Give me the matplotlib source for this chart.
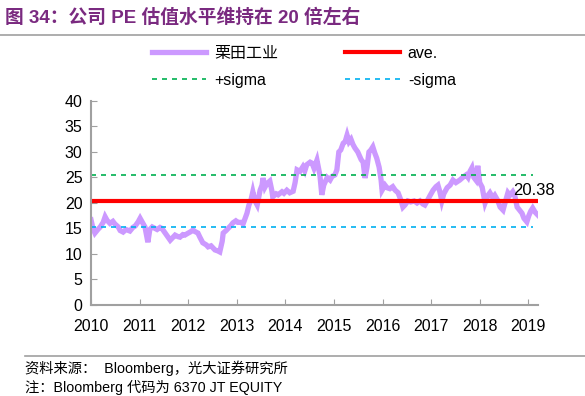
import matplotlib.pyplot as plt
from matplotlib.lines import Line2D

plt.rcParams['font.family'] = ['Liberation Sans', 'Noto Sans CJK SC']

# PE series, x in decimal years
years = [2010.00, 2010.04, 2010.08, 2010.14, 2010.19, 2010.25, 2010.29, 2010.33, 2010.39, 2010.45,
         2010.49, 2010.56, 2010.60, 2010.66, 2010.72, 2010.80, 2010.86, 2010.91, 2010.97, 2011.01,
         2011.07, 2011.11, 2011.17, 2011.21, 2011.26, 2011.32, 2011.36, 2011.42, 2011.46, 2011.52,
         2011.56, 2011.63, 2011.69, 2011.73, 2011.79, 2011.83, 2011.89, 2011.93, 2012.00, 2012.04,
         2012.10, 2012.14, 2012.20, 2012.24, 2012.30, 2012.37, 2012.41, 2012.47, 2012.51, 2012.55,
         2012.61, 2012.65, 2012.70, 2012.72, 2012.78, 2012.82, 2012.88, 2012.92, 2012.98, 2013.02,
         2013.09, 2013.13, 2013.19, 2013.21, 2013.25, 2013.29, 2013.33, 2013.37, 2013.42, 2013.46,
         2013.48, 2013.52, 2013.54, 2013.58, 2013.62, 2013.68, 2013.72, 2013.74, 2013.81, 2013.85,
         2013.93, 2013.97, 2014.03, 2014.09, 2014.16, 2014.20, 2014.24, 2014.30, 2014.36, 2014.40,
         2014.44, 2014.51, 2014.55, 2014.59, 2014.65, 2014.71, 2014.75, 2014.79, 2014.86, 2014.92,
         2014.96, 2015.02, 2015.06, 2015.10, 2015.14, 2015.19, 2015.23, 2015.27, 2015.31, 2015.35,
         2015.39, 2015.43, 2015.49, 2015.56, 2015.60, 2015.64, 2015.68, 2015.72, 2015.76, 2015.80,
         2015.84, 2015.88, 2015.93, 2015.97, 2015.99, 2016.05, 2016.09, 2016.15, 2016.21, 2016.26,
         2016.32, 2016.38, 2016.42, 2016.46, 2016.52, 2016.58, 2016.65, 2016.71, 2016.77, 2016.83,
         2016.87, 2016.93, 2016.98, 2017.04, 2017.10, 2017.14, 2017.18, 2017.22, 2017.26, 2017.33,
         2017.39, 2017.45, 2017.51, 2017.59, 2017.65, 2017.72, 2017.76, 2017.80, 2017.84, 2017.88,
         2017.92, 2017.96, 2018.00, 2018.05, 2018.09, 2018.11, 2018.17, 2018.21, 2018.27, 2018.31,
         2018.37, 2018.42, 2018.48, 2018.52, 2018.58, 2018.62, 2018.68, 2018.72, 2018.77, 2018.83,
         2018.87, 2018.91, 2018.97, 2019.01, 2019.05, 2019.09, 2019.14, 2019.20]
pe = [16.7, 15.0, 14.1, 14.8, 15.3, 16.2, 17.3, 16.6, 16.0, 16.4,
      15.9, 15.3, 14.6, 14.3, 14.8, 14.5, 15.2, 15.5, 16.3, 17.0,
      16.0, 15.3, 12.3, 14.8, 15.3, 15.0, 14.8, 15.2, 15.0, 14.2,
      13.7, 12.7, 13.3, 13.7, 13.4, 13.3, 13.8, 13.7, 14.1, 14.3,
      14.7, 14.4, 14.1, 13.3, 12.2, 11.8, 11.4, 11.6, 11.2, 10.8,
      10.6, 10.4, 12.5, 14.1, 14.6, 15.0, 15.6, 16.1, 16.5, 16.2,
      16.2, 15.9, 17.5, 18.0, 19.6, 20.5, 22.2, 20.5, 19.6, 21.5,
      22.5, 23.5, 24.9, 23.1, 23.8, 24.3, 22.5, 21.2, 21.8, 21.6,
      22.2, 21.9, 22.5, 22.0, 22.3, 24.0, 26.5, 26.2, 27.1, 26.3,
      27.5, 28.0, 27.8, 26.8, 28.4, 25.5, 21.6, 23.5, 25.0, 24.5,
      25.2, 25.5, 26.5, 30.0, 30.4, 31.7, 32.0, 33.3, 32.0, 32.5,
      31.5, 30.8, 30.0, 28.5, 28.0, 24.9, 27.0, 30.0, 30.4, 31.0,
      29.8, 28.8, 27.0, 24.5, 22.5, 23.5, 23.0, 22.8, 23.2, 22.5,
      22.0, 20.5, 19.2, 19.6, 20.4, 20.2, 20.4, 20.0, 20.4, 19.8,
      19.6, 20.6, 21.5, 22.5, 23.2, 23.5, 22.2, 20.4, 21.8, 23.0,
      23.5, 24.5, 24.0, 24.5, 25.0, 25.5, 25.0, 26.2, 26.9, 25.0,
      24.5, 27.3, 24.0, 23.1, 21.0, 20.0, 21.5, 22.0, 21.0, 21.5,
      20.5, 19.2, 18.6, 20.0, 22.0, 21.5, 22.2, 21.5, 19.2, 18.5,
      18.0, 17.0, 16.3, 17.5, 18.4, 19.0, 18.2, 17.6]
ave = 20.38
plus_sigma = 25.55
minus_sigma = 15.2
year_ticks = [2010, 2011, 2012, 2013, 2014, 2015, 2016, 2017, 2018, 2019]

fig = plt.figure(figsize=(5.85, 3.96), dpi=100)
ax = fig.add_axes([0.1556, 0.2298, 0.7641, 0.5152])

ax.plot(years, pe, color='#CC99FF', lw=3.8, solid_joinstyle='miter', label='栗田工业')
ax.plot([years[0], years[-1]], [ave, ave], color='#FF0000', lw=3, label='ave.')
ax.plot([years[0], years[-1] - 0.1], [plus_sigma, plus_sigma], color='#00B050', lw=1.2,
        dashes=(3, 3), label='+sigma')
ax.plot([years[0], years[-1] - 0.1], [minus_sigma, minus_sigma], color='#00B0F0', lw=1.2,
        dashes=(3, 3), label='-sigma')

ax.text(2018.68, 22.4, '%.2f' % ave, fontsize=12, va='center', ha='left')

ax.set_xlim(2010, 2019.2)
ax.set_ylim(0, 40)
ax.set_xticks(year_ticks)
ax.set_yticks(range(0, 41, 5))
ax.tick_params(direction='in', length=4, color='#A0A0A0', labelsize=11.5)
ax.tick_params(axis='y', pad=6)
ax.tick_params(axis='x', pad=10)
for s in ['top', 'right']:
    ax.spines[s].set_visible(False)
for s in ['left', 'bottom']:
    ax.spines[s].set_color('#A0A0A0')
    ax.spines[s].set_linewidth(1.5)

h, l = ax.get_legend_handles_labels()
order = [0, 2, 1, 3]
fig.legend([h[i] for i in order], [l[i] for i in order], ncol=2, frameon=False,
           loc='upper left', bbox_to_anchor=(0.26, 0.885), fontsize=11.5,
           handlelength=3.4, handletextpad=0.5, columnspacing=4.2, labelspacing=0.75,
           borderpad=0, borderaxespad=0)

fig.text(0.009, 0.955, '图 34：公司 PE 估值水平维持在 20 倍左右', fontsize=13.5,
         fontweight='bold', color='#7A2A80', va='center')
fig.add_artist(Line2D([0, 1], [0.912, 0.912], color='#A0A0A0', lw=1.2))
fig.add_artist(Line2D([0.043, 1], [0.101, 0.101], color='#A0A0A0', lw=1.2))
fig.text(0.043, 0.071, '资料来源：  Bloomberg，光大证券研究所', fontsize=10.3, va='center')
fig.text(0.043, 0.021, '注：Bloomberg 代码为 6370 JT EQUITY', fontsize=10.3, va='center')

fig.savefig('out.png', dpi=100)
